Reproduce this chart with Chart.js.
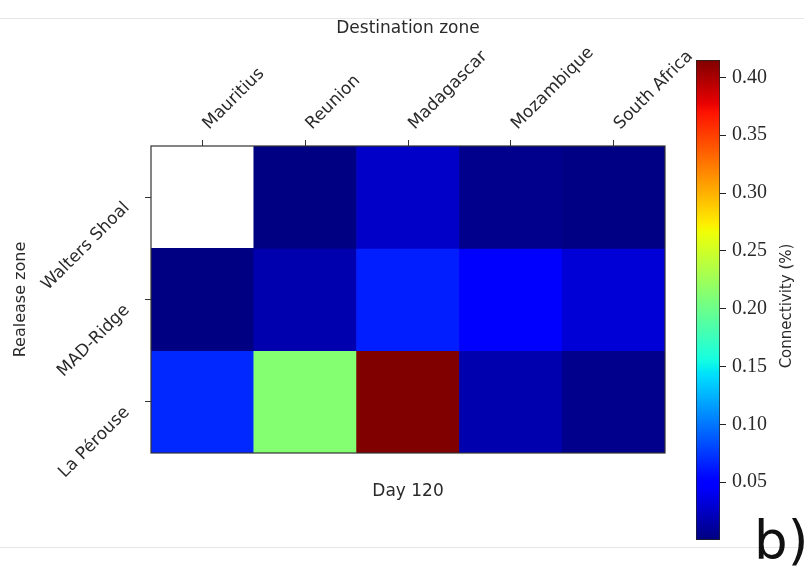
<!doctype html>
<html lang="en">
<head>
<meta charset="utf-8">
<title>Connectivity - Day 120</title>
<style>
  body {margin: 0; background: #fff;}
  #wrap {position: relative; width: 804px; height: 573px; overflow: hidden;}
  #heat {position: absolute; left: 0; top: 0;}
  #cbar {position: absolute; left: 660px; top: 0;}
  .rule {position: absolute; left: 0; width: 804px; height: 1px; background: #e6e6e6;}
  #panel {position: absolute; left: 754px; top: 510px; font: 53px "DejaVu Sans", sans-serif; color: #111;}
</style>
<script src="https://cdn.jsdelivr.net/npm/chart.js@4.4.1/dist/chart.umd.min.js"></script>
</head>
<body>
<div id="wrap">
  <div class="rule" style="top:18px"></div>
  <div class="rule" style="top:547px"></div>
  <canvas id="heat" width="804" height="573"></canvas>
  <canvas id="cbar" width="144" height="573"></canvas>
  <div id="panel">b)</div>
</div>

<script>
// values (connectivity %), null = no data (white cell)
var destinations = ['Mauritius', 'Reunion', 'Madagascar', 'Mozambique', 'South Africa'];
var releaseZones = ['Walters Shoal', 'MAD-Ridge', 'La Pérouse'];
var waltersShoal = [null, 0.001, 0.026, 0.005, 0.002];
var madRidge     = [0.001, 0.017, 0.064, 0.050, 0.031];
var laPerouse    = [0.068, 0.212, 0.415, 0.017, 0.005];
var cbarTicks = [0.05, 0.10, 0.15, 0.20, 0.25, 0.30, 0.35, 0.40];
var cbarMin = 0.0;
var cbarMax = 0.415;
var cbarTitle = 'Connectivity (%)';

var sans = '"DejaVu Sans", sans-serif';
var textColor = '#2a2a2a';

// matplotlib "jet" colormap
var jetR = [[0, 0], [0.35, 0], [0.66, 1], [0.89, 1], [1, 0.5]];
var jetG = [[0, 0], [0.125, 0], [0.375, 1], [0.64, 1], [0.91, 0], [1, 0]];
var jetB = [[0, 0.5], [0.11, 1], [0.34, 1], [0.65, 0], [1, 0]];

function interp(pts, t) {
  for (var i = 1; i < pts.length; i++) {
    if (t <= pts[i][0]) {
      var a = pts[i - 1], b = pts[i];
      return a[1] + (b[1] - a[1]) * (t - a[0]) / (b[0] - a[0]);
    }
  }
  return pts[pts.length - 1][1];
}

function jet(v) {
  var t = Math.max(0, Math.min(1, (v - cbarMin) / (cbarMax - cbarMin)));
  return 'rgb(' + Math.round(255 * interp(jetR, t)) + ',' +
    Math.round(255 * interp(jetG, t)) + ',' +
    Math.round(255 * interp(jetB, t)) + ')';
}

// heatmap: one floating-bar dataset per release zone, spanning [row, row+1]
var rows = [waltersShoal, madRidge, laPerouse];
var datasets = rows.map(function(vals, r) {
  return {
    label: releaseZones[r],
    data: vals.map(function(v) { return v === null ? null : [r, r + 1]; }),
    backgroundColor: vals.map(function(v) { return v === null ? 'rgba(0,0,0,0)' : jet(v); }),
    grouped: false,
    barPercentage: 1,
    categoryPercentage: 1,
    borderWidth: 0
  };
});

var framePlugin = {
  id: 'frame',
  afterDraw: function(chart) {
    var a = chart.chartArea, c = chart.ctx;
    c.save();
    c.strokeStyle = '#333';
    c.lineWidth = 1.2;
    c.strokeRect(a.left, a.top, a.right - a.left, a.bottom - a.top);
    c.restore();
  }
};

// colorbar label reads bottom-to-top like matplotlib's
var cbarTitlePlugin = {
  id: 'cbarTitle',
  afterDraw: function(chart) {
    var a = chart.chartArea, c = chart.ctx;
    c.save();
    c.translate(chart.width - 17, (a.top + a.bottom) / 2 + 6);
    c.rotate(-Math.PI / 2);
    c.font = '15px "DejaVu Sans"';
    c.fillStyle = textColor;
    c.textAlign = 'center';
    c.textBaseline = 'middle';
    c.fillText(cbarTitle, 0, 0);
    c.restore();
  }
};

new Chart(document.getElementById('heat'), {
  type: 'bar',
  data: {labels: destinations, datasets: datasets},
  plugins: [framePlugin],
  options: {
    responsive: false,
    animation: false,
    layout: {padding: {left: 0, top: 0, right: 139, bottom: 0}},
    plugins: {legend: {display: false}, tooltip: {enabled: false}},
    scales: {
      x: {
        type: 'category',
        position: 'top',
        offset: true,
        grid: {offset: false, drawOnChartArea: false, drawTicks: true, tickLength: 6, color: '#333'},
        border: {display: false},
        ticks: {autoSkip: false, minRotation: 45, maxRotation: 45, padding: 6, labelOffset: 18,
                color: textColor, font: {family: sans, size: 17}},
        title: {display: true, text: 'Destination zone', color: textColor,
                font: {family: sans, size: 17}, padding: {top: 18, bottom: 0}},
        afterFit: function(s) { s.height = 146; }
      },
      x2: {
        type: 'category',
        labels: destinations,
        position: 'bottom',
        offset: true,
        grid: {display: false},
        border: {display: false},
        ticks: {display: false},
        title: {display: true, text: 'Day 120', color: textColor,
                font: {family: sans, size: 17}, padding: {top: 0, bottom: 71}},
        afterFit: function(s) { s.height = 120; }
      },
      y: {
        type: 'linear',
        position: 'left',
        min: 0,
        max: 3,
        reverse: true,
        afterBuildTicks: function(s) {
          s.ticks = releaseZones.map(function(n, i) { return {value: i + 0.5}; });
        },
        grid: {drawOnChartArea: false, drawTicks: true, tickLength: 6, color: '#333'},
        border: {display: false},
        ticks: {
          minRotation: 45, maxRotation: 45, padding: 18, labelOffset: 8, color: textColor,
          font: {family: sans, size: 17},
          callback: function(v, i) { return releaseZones[i]; }
        },
        title: {display: true, text: 'Realease zone', color: textColor,
                font: {family: sans, size: 16}, padding: {top: 11, bottom: 0}},
        afterFit: function(s) { s.width = 151; }
      }
    }
  }
});

// colorbar: a single floating bar filled with the jet gradient
new Chart(document.getElementById('cbar'), {
  type: 'bar',
  data: {
    labels: [''],
    datasets: [{
      data: [[cbarMin, cbarMax]],
      backgroundColor: function(ctx) {
        var ca = ctx.chart.chartArea;
        if (!ca) return null;
        var g = ctx.chart.ctx.createLinearGradient(0, ca.bottom, 0, ca.top);
        for (var i = 0; i <= 100; i++) {
          g.addColorStop(i / 100, jet(cbarMin + i / 100 * (cbarMax - cbarMin)));
        }
        return g;
      },
      borderColor: '#222',
      borderWidth: 1,
      borderSkipped: false,
      barPercentage: 1,
      categoryPercentage: 1
    }]
  },
  plugins: [cbarTitlePlugin],
  options: {
    responsive: false,
    animation: false,
    layout: {padding: {left: 36, top: 60, bottom: 33, right: 0}},
    plugins: {legend: {display: false}, tooltip: {enabled: false}},
    scales: {
      x: {display: false},
      y: {
        position: 'right',
        min: cbarMin,
        max: cbarMax,
        afterBuildTicks: function(s) {
          s.ticks = cbarTicks.map(function(v) { return {value: v}; });
        },
        grid: {drawOnChartArea: false, drawTicks: true, tickLength: 6, color: '#222'},
        border: {display: false},
        ticks: {
          padding: 6, color: textColor,
          font: {family: '"Liberation Serif", serif', size: 20},
          callback: function(v) { return v.toFixed(2); }
        },
        afterFit: function(s) { s.width = 84; }
      }
    }
  }
});
</script>
</body>
</html>
